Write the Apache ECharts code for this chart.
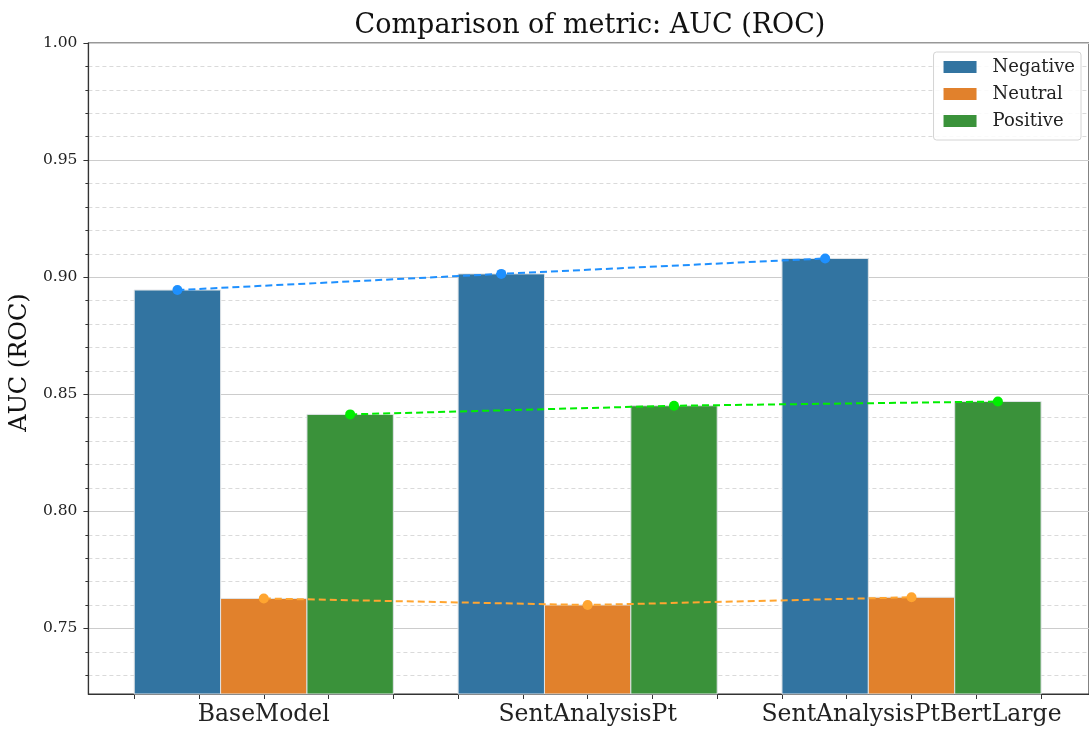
<!DOCTYPE html>
<html>
<head>
<meta charset="utf-8">
<script src="https://cdn.jsdelivr.net/npm/echarts@6/dist/echarts.min.js"></script>
<style>
  html, body { margin: 0; padding: 0; background: #ffffff; }
  #chart { width: 1089px; height: 731px; }
</style>
</head>
<body>
<div id="chart"></div>
<script>
// Models compared and per-class AUC (ROC) values
const models = ['BaseModel', 'SentAnalysisPt', 'SentAnalysisPtBertLarge'];
const classes = ['Negative', 'Neutral', 'Positive'];
const negativeAuc = [0.8945, 0.9014, 0.9080];
const neutralAuc = [0.7628, 0.7600, 0.7633];
const positiveAuc = [0.8414, 0.8451, 0.8469];
const majorTicks = [0.75, 0.80, 0.85, 0.90, 0.95, 1.00];
const minorTicks = [0.73, 0.74, 0.76, 0.77, 0.78, 0.79, 0.81, 0.82, 0.83, 0.84,
                    0.86, 0.87, 0.88, 0.89, 0.91, 0.92, 0.93, 0.94, 0.96, 0.97, 0.98, 0.99];
const yMin = 0.722;
const yMax = 1.0;

const barColors = ['#3274a1', '#e1812c', '#3a923a'];
const lineColors = ['#1e90ff', '#ffa530', '#00ee00'];
const FONT = 'DejaVu Serif';

// grouped bar geometry, in category units
const groupWidth = 0.8;
const barWidth = groupWidth / classes.length;
const offsets = classes.map((_, i) => (i - (classes.length - 1) / 2) * barWidth);
const xTicks = [];
for (let k = -2; k <= 12; k++) xTicks.push(+(k * 0.2).toFixed(2));

const allValues = [negativeAuc, neutralAuc, positiveAuc];

function barSeries(ci) {
  return {
    name: classes[ci],
    type: 'custom',
    xAxisIndex: 0,
    yAxisIndex: 0,
    itemStyle: { color: barColors[ci] },
    data: allValues[ci].map((v, mi) => [mi + offsets[ci], v]),
    renderItem: function (params, api) {
      const x = api.value(0);
      const y = api.value(1);
      const p1 = api.coord([x - barWidth / 2, y]);
      const p2 = api.coord([x + barWidth / 2, yMin]);
      return {
        type: 'rect',
        shape: { x: p1[0], y: p1[1], width: p2[0] - p1[0], height: p2[1] - p1[1] },
        style: { fill: barColors[ci], stroke: '#dfe3e6', lineWidth: 1 }
      };
    },
    z: 2
  };
}

function trendSeries(ci) {
  return {
    name: classes[ci] + ' trend',
    type: 'line',
    xAxisIndex: 0,
    yAxisIndex: 0,
    data: allValues[ci].map((v, mi) => [mi + offsets[ci], v]),
    symbol: 'circle',
    symbolSize: 10,
    itemStyle: { color: lineColors[ci] },
    lineStyle: { color: lineColors[ci], width: 2, type: [7, 4] },
    silent: true,
    z: 5
  };
}

const chart = echarts.init(document.getElementById('chart'), null, { renderer: 'canvas' });

chart.setOption({
  animation: false,
  backgroundColor: '#ffffff',
  title: {
    text: 'Comparison of metric: AUC (ROC)',
    left: 585,
    textAlign: 'center',
    top: 7,
    textStyle: { fontFamily: FONT, fontSize: 27, fontWeight: 'normal', color: '#111111' }
  },
  legend: {
    data: classes,
    orient: 'vertical',
    right: 8,
    top: 52,
    itemWidth: 33,
    itemHeight: 12,
    itemGap: 7,
    padding: [5, 6, 9, 10],
    borderColor: '#d4d4d4',
    borderWidth: 1,
    borderRadius: 3,
    backgroundColor: 'rgba(255,255,255,0.85)',
    icon: 'rect',
    textStyle: { fontFamily: FONT, fontSize: 18, color: '#222222', lineHeight: 20, padding: [0, 0, 0, 11] }
  },
  grid: {
    left: 88,
    top: 43,
    width: 1004,
    bottom: 37,
    show: true,
    borderColor: '#333333',
    borderWidth: 1.2,
    containLabel: false
  },
  xAxis: [{
    type: 'value',
    min: -0.5415,
    max: 2.548,
    axisLine: { show: true, onZero: false, lineStyle: { color: '#333333', width: 1.2 } },
    axisTick: { show: true, customValues: xTicks, length: 5, lineStyle: { color: '#333333' } },
    axisLabel: {
      customValues: [0, 1, 2],
      formatter: v => models[Math.round(v)],
      fontFamily: FONT, fontSize: 23.5, color: '#222222', margin: 9
    },
    splitLine: { show: false }
  }],
  yAxis: [{
    type: 'value',
    min: yMin,
    max: yMax,
    position: 'left',
    name: 'AUC (ROC)',
    nameLocation: 'middle',
    nameGap: 50,
    nameTextStyle: { fontFamily: FONT, fontSize: 24, color: '#111111', padding: [0, 0, 0, 12] },
    axisLine: { show: true, onZero: false, lineStyle: { color: '#333333', width: 1.2 } },
    axisTick: { show: true, customValues: majorTicks, length: 5, lineStyle: { color: '#333333' } },
    axisLabel: {
      customValues: majorTicks,
      formatter: v => v.toFixed(2),
      fontFamily: FONT, fontSize: 15.5, color: '#222222', margin: 11
    },
    splitLine: { show: true, lineStyle: { color: '#cccccc', width: 1.2 } }
  }, {
    type: 'value',
    min: yMin,
    max: yMax,
    position: 'left',
    offset: 0,
    axisLine: { show: false, onZero: false },
    axisTick: { show: true, customValues: minorTicks, length: 3, lineStyle: { color: '#333333' } },
    axisLabel: { show: false, customValues: minorTicks },
    splitLine: { show: true, lineStyle: { color: '#dadada', width: 1, type: [4, 3] } }
  }],
  series: [
    barSeries(0), barSeries(1), barSeries(2),
    trendSeries(0), trendSeries(1), trendSeries(2)
  ]
});
</script>
</body>
</html>
